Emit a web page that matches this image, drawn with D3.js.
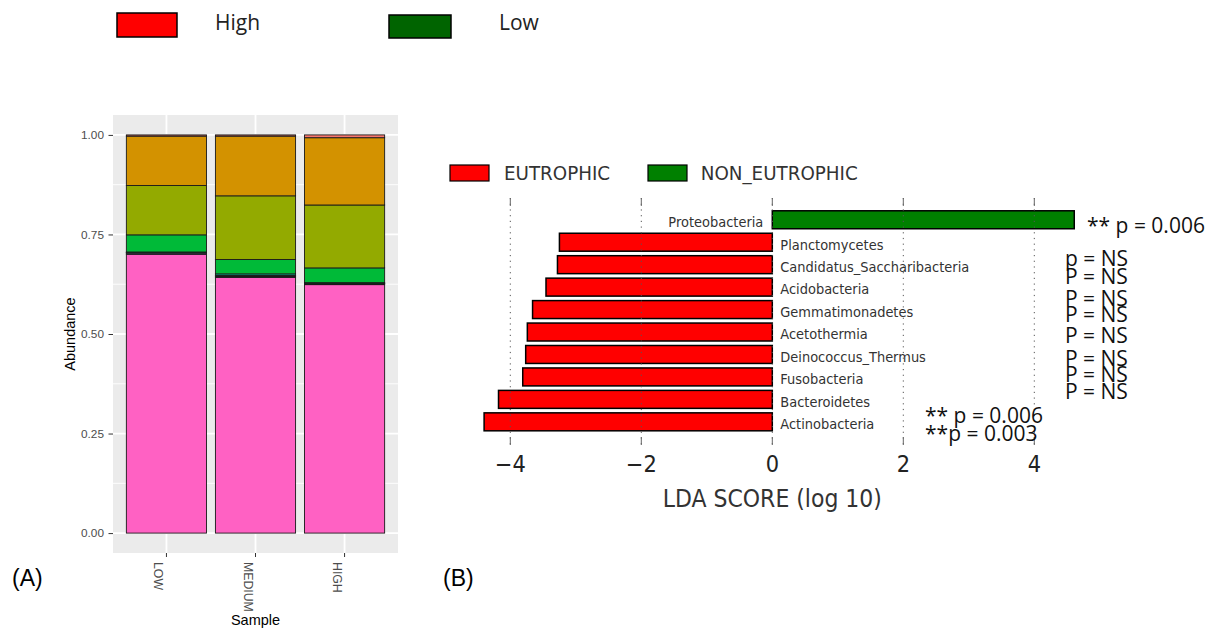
<!DOCTYPE html>
<html><head><meta charset="utf-8">
<script src="https://cdn.jsdelivr.net/npm/d3@7"></script>
<style>
html,body{margin:0;padding:0;background:#fff;}
svg{display:block;}
</style>
</head><body>
<svg id="chart" width="1215" height="629"></svg>
<script>
// ---------- Data: panel A (stacked relative abundance) ----------
const samples = ["LOW", "MEDIUM", "HIGH"];
// stack order, bottom to top
const taxaA = ["Taxon 9", "Taxon 8", "Taxon 7", "Taxon 6", "Taxon 5", "Taxon 4", "Taxon 3", "Taxon 2", "Taxon 1"];
const taxaColors = ["#FF61C3", "#DB72FB", "#619CFF", "#00B9E3", "#00C19F", "#00BA38", "#93AA00", "#D39200", "#F8766D"];
const lowValues    = [0.700, 0.003, 0.001, 0.001, 0.001, 0.043, 0.124, 0.124, 0.003];
const mediumValues = [0.642, 0.002, 0.002, 0.001, 0.004, 0.036, 0.160, 0.150, 0.003];
const highValues   = [0.624, 0.002, 0.001, 0.001, 0.001, 0.037, 0.158, 0.169, 0.007];
const yTicksA = [0, 0.25, 0.5, 0.75, 1];
const yMinorA = [0.125, 0.375, 0.625, 0.875];

// ---------- Data: panel B (LEfSe LDA scores) ----------
const taxaB = ["Proteobacteria", "Planctomycetes", "Candidatus_Saccharibacteria", "Acidobacteria",
  "Gemmatimonadetes", "Acetothermia", "Deinococcus_Thermus", "Fusobacteria", "Bacteroidetes", "Actinobacteria"];
const ldaScores = [4.61, -3.25, -3.28, -3.455, -3.66, -3.74, -3.765, -3.81, -4.18, -4.40];
const ldaClass = ["NON_EUTROPHIC", "EUTROPHIC", "EUTROPHIC", "EUTROPHIC", "EUTROPHIC",
  "EUTROPHIC", "EUTROPHIC", "EUTROPHIC", "EUTROPHIC", "EUTROPHIC"];
const classesB = ["EUTROPHIC", "NON_EUTROPHIC"];
const classColorsB = ["#FF0000", "#008000"];
const xTicksB = [-4, -2, 0, 2, 4];
// p-value annotations
const pLabels = ["** p = 0.006", "p = NS", "P = NS", "P = NS", "P = NS", "P = NS", "P = NS", "P = NS", "P = NS", "** p = 0.006", "**p = 0.003"];
// top legend
const topLegend = ["High", "Low"];
const topLegendColors = ["#FF0000", "#006400"];

// ---------- Layout (positions only) ----------
const pLayout = [[1087,233],[1065,266],[1065,284],[1065,306],[1065,322],[1065,343],[1065,366],[1065,382],[1065,399],[925,423],[925,441]];

const svg = d3.select("#chart");
const fontA = "'Liberation Sans', Arial, sans-serif";
const fontB = "'DejaVu Sans', sans-serif";
const fontP = "'Open Sans', sans-serif";

// ---------- Top legend ----------
const topRects = [[117,13,60,24],[389,15,62,23]];
const topText = [[215,30],[499,30]];
topLegend.forEach((t,i)=>{
  svg.append("rect").attr("x",topRects[i][0]).attr("y",topRects[i][1]).attr("width",topRects[i][2]).attr("height",topRects[i][3])
    .attr("fill",topLegendColors[i]).attr("stroke","#000").attr("stroke-width",1.5);
  svg.append("text").attr("x",topText[i][0]).attr("y",topText[i][1]).attr("font-family",fontP).attr("font-size",21)
    .attr("fill","#222").text(t);
});

// ---------- Panel A ----------
const pa = {l:113, r:398, t:115, b:553};
const xA = d3.scaleBand().domain(samples).range([pa.l, pa.r]).paddingInner(0.1).paddingOuter(0.15);
const yA = d3.scaleLinear().domain([-0.05, 1.05]).range([pa.b, pa.t]);
const gA = svg.append("g");
gA.append("rect").attr("x",pa.l).attr("y",pa.t).attr("width",pa.r-pa.l).attr("height",pa.b-pa.t).attr("fill","#EBEBEB");
gA.selectAll(".minor").data(yMinorA).join("line")
  .attr("x1",pa.l).attr("x2",pa.r).attr("y1",d=>yA(d)).attr("y2",d=>yA(d)).attr("stroke","#fff").attr("stroke-width",0.9);
gA.selectAll(".major").data(yTicksA).join("line")
  .attr("x1",pa.l).attr("x2",pa.r).attr("y1",d=>yA(d)).attr("y2",d=>yA(d)).attr("stroke","#fff").attr("stroke-width",1.8);
gA.selectAll(".vmajor").data(samples).join("line")
  .attr("x1",d=>xA(d)+xA.bandwidth()/2).attr("x2",d=>xA(d)+xA.bandwidth()/2).attr("y1",pa.t).attr("y2",pa.b)
  .attr("stroke","#fff").attr("stroke-width",1.8);

const valuesBySample = [lowValues, mediumValues, highValues];
const rowsA = samples.map((s,i)=>{ const o={sample:s}; taxaA.forEach((k,j)=>o[k]=valuesBySample[i][j]); return o; });
const stackA = d3.stack().keys(taxaA)(rowsA);
gA.selectAll(".layer").data(stackA).join("g").attr("fill",(d,i)=>taxaColors[i])
  .selectAll("rect").data(d=>d).join("rect")
  .attr("x",d=>xA(d.data.sample)).attr("width",xA.bandwidth())
  .attr("y",d=>yA(d[1])).attr("height",d=>yA(d[0])-yA(d[1]))
  .attr("stroke","#1a1a1a").attr("stroke-width",0.9);

const axYA = gA.append("g").attr("transform",`translate(${pa.l},0)`)
  .call(d3.axisLeft(yA).tickValues(yTicksA).tickFormat(d3.format(".2f")).tickSize(4.5).tickPadding(4.5));
axYA.select(".domain").remove();
axYA.selectAll("line").attr("stroke","#333");
axYA.selectAll("text").attr("font-family",fontA).attr("font-size",11.8).attr("fill","#4D4D4D");

const axXA = gA.append("g").attr("transform",`translate(0,${pa.b})`)
  .call(d3.axisBottom(xA).tickSize(4).tickPadding(0));
axXA.select(".domain").remove();
axXA.selectAll("line").attr("stroke","#333");
axXA.selectAll("text").attr("font-family",fontA).attr("font-size",12.3).attr("fill","#4D4D4D")
  .attr("x",0).attr("y",0).attr("dy",null).attr("text-anchor","start")
  .attr("transform","translate(-12,9) rotate(90)");

gA.append("text").attr("transform",`translate(75,334) rotate(-90)`).attr("text-anchor","middle")
  .attr("font-family",fontA).attr("font-size",14.5).attr("fill","#000").text("Abundance");
gA.append("text").attr("x",(pa.l+pa.r)/2).attr("y",625).attr("text-anchor","middle")
  .attr("font-family",fontA).attr("font-size",14.5).attr("fill","#000").text("Sample");

svg.append("text").attr("x",12).attr("y",586).attr("font-family",fontA).attr("font-size",23).attr("fill","#000").text("(A)");
svg.append("text").attr("x",443).attr("y",586).attr("font-family",fontA).attr("font-size",23).attr("fill","#000").text("(B)");

// ---------- Panel B ----------
const gB = svg.append("g");
const KY = 1.1; // vertical stretch of original figure text
function textB(x, y, str, size, anchor, color){
  return gB.append("text").attr("transform",`translate(${x},${y}) scale(1,${KY})`)
    .attr("font-family",fontB).attr("font-size",size).attr("text-anchor",anchor).attr("fill",color).text(str);
}
const xB = d3.scaleLinear().domain([-4, 4]).range([510.3, 1034.3]);
const yB = d3.scaleBand().domain(taxaB).range([206.3, 435.3]).padding(0.2);
const colorB = d3.scaleOrdinal().domain(classesB).range(classColorsB);
const axTop = 198, axBot = 445;

// legend B
const legB = [[450,165,504],[648,165,700.7]];
classesB.forEach((c,i)=>{
  gB.append("rect").attr("x",legB[i][0]).attr("y",legB[i][1]).attr("width",39).attr("height",16)
    .attr("fill",colorB(c)).attr("stroke","#000").attr("stroke-width",1.2);
  textB(legB[i][2], 180, c, 18.3, "start", "#333");
});

const rowsB = taxaB.map((t,i)=>({taxon:t, lda:ldaScores[i], cls:ldaClass[i]}));
gB.selectAll(".barB").data(rowsB).join("rect")
  .attr("x",d=>xB(Math.min(0,d.lda))).attr("width",d=>Math.abs(xB(d.lda)-xB(0)))
  .attr("y",d=>yB(d.taxon)).attr("height",yB.bandwidth())
  .attr("fill",d=>colorB(d.cls)).attr("stroke","#000").attr("stroke-width",1.5);

// grid (dotted, drawn over bars) and ticks
gB.selectAll(".gridB").data(xTicksB).join("line")
  .attr("x1",d=>xB(d)).attr("x2",d=>xB(d)).attr("y1",axTop).attr("y2",axBot)
  .attr("stroke","#555").attr("stroke-width",1).attr("stroke-dasharray","1.2,4.5");
gB.selectAll(".tickTop").data(xTicksB).join("line")
  .attr("x1",d=>xB(d)).attr("x2",d=>xB(d)).attr("y1",axTop).attr("y2",axTop+8)
  .attr("stroke","#666").attr("stroke-width",1);
gB.selectAll(".tickBot").data(xTicksB).join("line")
  .attr("x1",d=>xB(d)).attr("x2",d=>xB(d)).attr("y1",axBot-8).attr("y2",axBot)
  .attr("stroke","#666").attr("stroke-width",1);
xTicksB.forEach(t=>textB(xB(t), 472, d3.format("d")(t), 21, "middle", "#222"));
textB(xB(0), 507, "LDA SCORE (log 10)", 22, "middle", "#333");

// bar labels
rowsB.forEach(d=>{
  const yc = yB(d.taxon)+yB.bandwidth()/2 + 7.3;
  if (d.lda < 0) textB(xB(0)+8, yc, d.taxon, 13, "start", "#333");
  else textB(xB(0)-9, yc, d.taxon, 13, "end", "#333");
});

// p-value annotations
pLabels.forEach((p,i)=>{
  svg.append("text").attr("x",pLayout[i][0]).attr("y",pLayout[i][1]).attr("font-family",fontP)
    .attr("font-size",21).attr("fill","#111").text(p);
});
</script>
</body></html>
